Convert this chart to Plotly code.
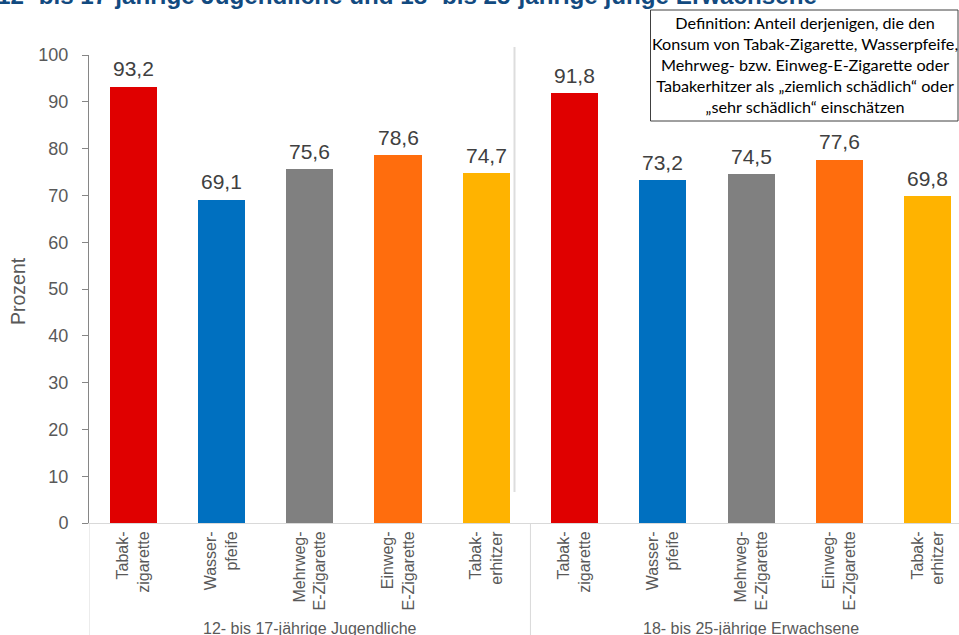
import plotly.graph_objects as go

categories = ["Tabak-<br>zigarette", "Wasser-<br>pfeife", "Mehrweg-<br>E-Zigarette",
              "Einweg-<br>E-Zigarette", "Tabak-<br>erhitzer"]
groups = ["12- bis 17-jährige Jugendliche", "18- bis 25-jährige Erwachsene"]
values_jugendliche = [93.2, 69.1, 75.6, 78.6, 74.7]
values_erwachsene = [91.8, 73.2, 74.5, 77.6, 69.8]
colors = ["#E00000", "#0070C0", "#808080", "#FF6D0D", "#FFB300"]
y_ticks = [0, 10, 20, 30, 40, 50, 60, 70, 80, 90, 100]

title_text = "12- bis 17-jährige Jugendliche und 18- bis 25-jährige junge Erwachsene"
definition_text = ("Definition: Anteil derjenigen, die den<br>"
                   "Konsum von Tabak-Zigarette, Wasserpfeife,<br>"
                   "Mehrweg- bzw. Einweg-E-Zigarette oder<br>"
                   "Tabakerhitzer als „ziemlich schädlich“ oder<br>"
                   "„sehr schädlich“ einschätzen")

values = values_jugendliche + values_erwachsene
x_pos = list(range(len(values)))
tick_text = categories + categories
bar_colors = colors + colors

FONT = "Arial, Liberation Sans, sans-serif"
W, H = 959, 635
L, R, T, B = 89, 0, 55, 112
PW, PH = W - L - R, H - T - B

def px_x(px):
    return (px - L) / PW

def px_y(py):
    return (H - B - py) / PH

fig = go.Figure()
fig.add_trace(go.Bar(
    x=x_pos, y=values,
    marker=dict(color=bar_colors, line=dict(width=0)),
    width=0.533,
    hoverinfo="skip",
))

# data labels
for xv, v in zip(x_pos, values):
    fig.add_annotation(
        x=xv, y=v, xref="x", yref="y",
        text=f"{v:.1f}".replace(".", ","),
        showarrow=False, xanchor="center", yanchor="middle", yshift=18,
        font=dict(family=FONT, size=21, color="#404040"),
    )

fig.update_layout(
    width=W, height=H,
    margin=dict(l=L, r=R, t=T, b=B, pad=0, autoexpand=False),
    paper_bgcolor="white", plot_bgcolor="white",
    separators=",.",
    showlegend=False,
    bargap=0,
    font=dict(family=FONT, color="#595959"),
)

fig.update_xaxes(
    range=[-0.5, 9.354],
    tickmode="array", tickvals=x_pos, ticktext=tick_text,
    tickangle=-90,
    tickfont=dict(family=FONT, size=16, color="#595959"),
    ticks="", showgrid=False, zeroline=False,
    showline=True, linecolor="#D9D9D9", linewidth=1,
    ticklabelstandoff=1,
    automargin=False,
)
fig.update_yaxes(
    range=[0, 100],
    tickmode="array", tickvals=y_ticks,
    tickfont=dict(family=FONT, size=18, color="#595959"),
    ticks="outside", ticklen=6, tickcolor="#868686", tickwidth=1,
    showgrid=False, zeroline=False,
    showline=True, linecolor="#868686", linewidth=1,
    ticklabelstandoff=10,
    automargin=False,
)

# y-axis title
fig.add_annotation(
    text="Prozent", xref="paper", yref="paper",
    x=px_x(18), y=px_y(291), xanchor="center", yanchor="middle",
    textangle=-90, showarrow=False,
    font=dict(family=FONT, size=19.5, color="#595959"),
)

# group labels
for gi, g in enumerate(groups):
    fig.add_annotation(
        text=g, xref="x", yref="paper",
        x=gi * 5 + 2, y=px_y(628), xanchor="center", yanchor="middle",
        showarrow=False,
        font=dict(family=FONT, size=16, color="#595959"),
    )

# category dividers below axis
for xv in [-0.5, 4.5]:
    fig.add_shape(type="line", xref="x", yref="paper",
                  x0=xv, x1=xv, y0=0, y1=px_y(H + 5),
                  line=dict(color="#D9D9D9", width=1))

# faint vertical line
fig.add_shape(type="line", xref="paper", yref="paper",
              x0=px_x(514.5), x1=px_x(514.5), y0=px_y(47), y1=px_y(492),
              line=dict(color="#DDDDDD", width=2))

# title (cut off at top)
fig.add_annotation(
    text="<b>" + title_text + "</b>", xref="paper", yref="paper",
    x=px_x(-5), y=px_y(-5), xanchor="left", yanchor="middle",
    showarrow=False,
    font=dict(family=FONT, size=24.2, color="#124A80"),
)

# definition box
fig.add_shape(type="rect", xref="paper", yref="paper",
              x0=px_x(650.5), x1=px_x(958), y0=px_y(121), y1=px_y(10),
              line=dict(color="#404040", width=1), fillcolor="white", layer="above")
fig.add_annotation(
    text=definition_text, xref="paper", yref="paper",
    x=px_x(805), y=px_y(64), xanchor="center", yanchor="middle",
    align="center", showarrow=False,
    font=dict(family="Lato, Carlito, Calibri, sans-serif", size=16.2, color="#000000"),
)

fig.write_html("out.html", config={"displayModeBar": False},
               post_script="document.body.style.margin='0';document.body.style.overflow='hidden';")
